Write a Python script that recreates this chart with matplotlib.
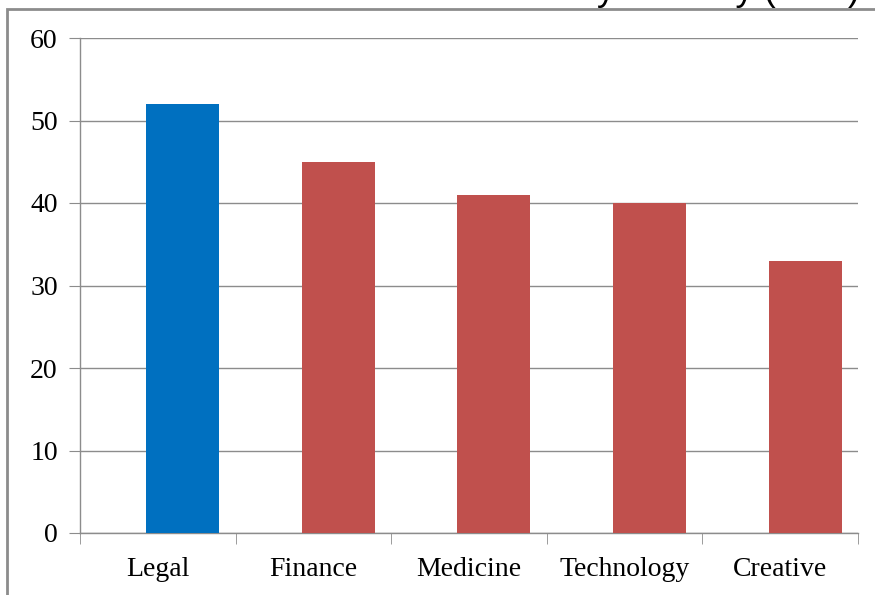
import matplotlib
matplotlib.use('Agg')
import matplotlib.pyplot as plt
from matplotlib.patches import Rectangle

# Data
categories = ['Legal', 'Finance', 'Medicine', 'Technology', 'Creative']
values = [52, 45, 41, 40, 33]
bar_colors = ['#0070C0', '#C0504D', '#C0504D', '#C0504D', '#C0504D']
y_ticks = [0, 10, 20, 30, 40, 50, 60]

plt.rcParams['font.family'] = ['Liberation Serif', 'DejaVu Serif']

W, H = 875, 595
fig = plt.figure(figsize=(W / 100, H / 100), dpi=100)

# outer chart frame (only top and left edges visible in picture)
fig.patches.append(Rectangle((7 / W, -0.1), 1.2, (H - 9) / H + 0.1,
                             transform=fig.transFigure, fill=False,
                             edgecolor='#8c8c8c', linewidth=2, zorder=0))

# title sits mostly above the picture, as in the original screenshot
fig.text(475 / W, 1.0, 'Mean Perceived Stress Score by Industry (PSS)',
         ha='center', va='baseline', fontsize=26, color='black',
         family=['Liberation Sans', 'DejaVu Sans'])

ax = fig.add_axes([80 / W, (H - 533) / H, (858 - 80) / W, (533 - 38) / H])
x = list(range(len(categories)))
# bars sit right of the category centre (single series of a clustered layout)
ax.bar([i + 0.16 for i in x], values, width=0.47, color=bar_colors, zorder=3)

ax.set_xlim(-0.5, len(categories) - 0.5)
ax.set_ylim(0, 60)
ax.set_yticks(y_ticks)
ax.set_yticklabels([str(t) for t in y_ticks], fontsize=20)
ax.yaxis.grid(True, color='#8c8c8c', linewidth=1, zorder=0)

ax.set_xticks(x)
ax.set_xticklabels(categories, fontsize=20)
ax.tick_params(axis='x', length=0, pad=17)
ax.set_xticks([i - 0.5 for i in range(len(categories) + 1)], minor=True)
ax.tick_params(axis='x', which='minor', length=8, color='#8c8c8c', direction='out')
ax.tick_params(axis='y', length=8, color='#8c8c8c', direction='out', pad=8)

for s in ['top', 'right']:
    ax.spines[s].set_visible(False)
for s in ['left', 'bottom']:
    ax.spines[s].set_color('#8c8c8c')
    ax.spines[s].set_linewidth(1)

fig.savefig('out.png', dpi=100)
